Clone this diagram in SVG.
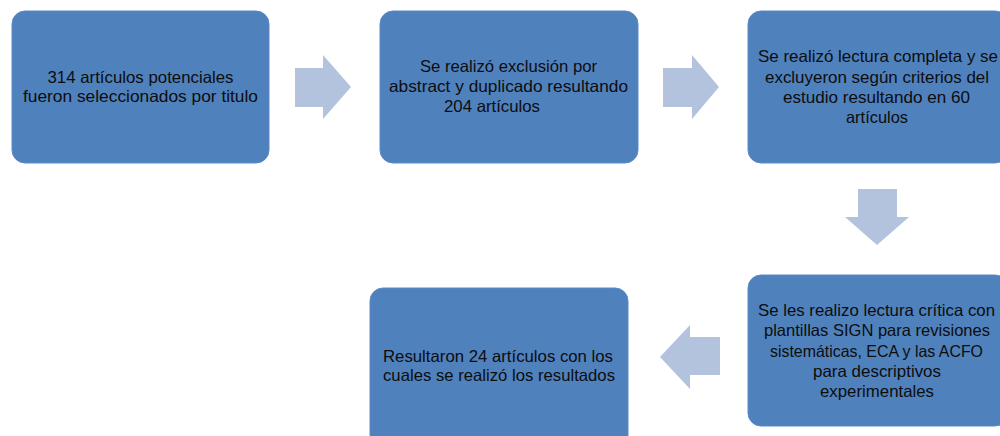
<svg xmlns="http://www.w3.org/2000/svg" width="1000" height="436" viewBox="0 0 1000 436">
<style>
.box{fill:#4F81BD;stroke:#5B8AC4;stroke-width:1}
.arr{fill:#B3C3DE}
text{font-family:"Liberation Sans",Arial,sans-serif;font-size:16.5px;fill:#0d0d0d;text-anchor:middle}
</style>
<rect width="1000" height="436" fill="#fff"/>
<g id="connectors">
<polygon class="arr" points="295,68 323,68 323,55 351,87 323,119 323,107 295,107"/>
<polygon class="arr" points="663,68 692,68 692,55 719,87 692,119 692,107 663,107"/>
<polygon class="arr" points="858,189 897,189 897,217 909,217 877,245 845,217 858,217"/>
<polygon class="arr" points="720,337 690,337 690,325 660,357 690,389 690,375 720,375"/>
</g>
<g id="node1">
<rect class="box" x="12" y="11" width="257" height="152" rx="13"/>
<text x="140.5" y="83" textLength="186" lengthAdjust="spacingAndGlyphs">314 artículos potenciales</text>
<text x="140.5" y="102" textLength="235" lengthAdjust="spacingAndGlyphs">fueron seleccionados por titulo</text>
</g>
<g id="node2">
<rect class="box" x="380" y="11" width="258" height="152" rx="13"/>
<text x="508.5" y="72" textLength="177" lengthAdjust="spacingAndGlyphs">Se realizó exclusión por</text>
<text x="508.5" y="92" textLength="239" lengthAdjust="spacingAndGlyphs">abstract y duplicado resultando</text>
<text x="492" y="112" textLength="96" lengthAdjust="spacingAndGlyphs">204 artículos</text>
</g>
<g id="node3">
<rect class="box" x="748" y="11" width="260" height="152" rx="13"/>
<text x="878" y="62" textLength="240" lengthAdjust="spacingAndGlyphs">Se realizó lectura completa y se</text>
<text x="877" y="83" textLength="224" lengthAdjust="spacingAndGlyphs">excluyeron según criterios del</text>
<text x="876.5" y="103" textLength="187" lengthAdjust="spacingAndGlyphs">estudio resultando en 60</text>
<text x="877" y="123" textLength="62" lengthAdjust="spacingAndGlyphs">artículos</text>
</g>
<g id="node4">
<rect class="box" x="748" y="275" width="260" height="151" rx="13"/>
<text x="876.5" y="316" textLength="237" lengthAdjust="spacingAndGlyphs">Se les realizo lectura crítica con</text>
<text x="877" y="336" textLength="226" lengthAdjust="spacingAndGlyphs">plantillas SIGN para revisiones</text>
<text x="876.5" y="357" textLength="213" lengthAdjust="spacingAndGlyphs">sistemáticas, ECA y las ACFO</text>
<text x="877" y="377" textLength="128" lengthAdjust="spacingAndGlyphs">para descriptivos</text>
<text x="877" y="397" textLength="114" lengthAdjust="spacingAndGlyphs">experimentales</text>
</g>
<g id="node5">
<rect class="box" x="370" y="288" width="258" height="160" rx="13"/>
<text x="498" y="362" textLength="230" lengthAdjust="spacingAndGlyphs">Resultaron 24 artículos con los</text>
<text x="499" y="381" textLength="232" lengthAdjust="spacingAndGlyphs">cuales se realizó los resultados</text>
</g>
</svg>
